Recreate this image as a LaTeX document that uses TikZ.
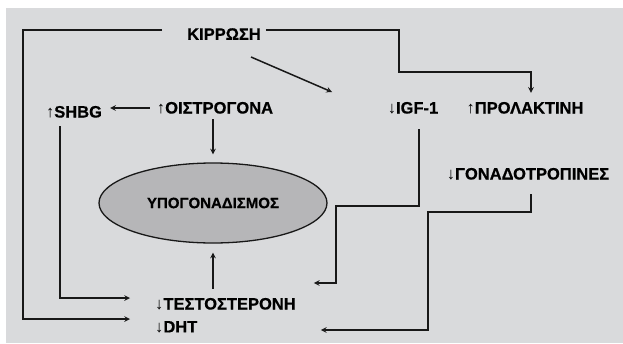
\documentclass[tikz,border=0pt]{standalone}
\usepackage{fontspec}
\setmainfont{Liberation Sans}[BoldFeatures={FakeBold=0.6}]
\usetikzlibrary{positioning, calc, shapes.geometric}
\definecolor{bggray}{RGB}{217,218,220}
\definecolor{ovalgray}{RGB}{182,182,184}
\definecolor{inkgray}{RGB}{24,24,24}
\newcommand{\uparr}{{\mdseries ↑}}
\newcommand{\dnarr}{{\mdseries ↓}}
\tikzstyle{term} = [font=\bfseries\fontsize{16.5}{18}\selectfont, text=black, inner sep=0pt]
\tikzstyle{oval} = [ellipse, draw=inkgray, line width=1.3pt, fill=ovalgray, minimum width=228pt, minimum height=80pt, inner sep=0pt, font=\bfseries\fontsize{15}{17}\selectfont]
\tikzstyle{myarrow} = [->, >=stealth, line width=1.5pt, draw=inkgray]

\begin{document}
\begin{tikzpicture}[x=1pt, y=-1pt]
\useasboundingbox (0,0) rectangle (623,343);
\fill[bggray] (6,8) rectangle (623,343);

\node (kir)  [term] at (224,34) {ΚΙΡΡΩΣΗ};
\node (shbg) [term] at (74,112) {\uparr SHBG};
\node (oest) [term] at (215,108) {\uparr ΟΙΣΤΡΟΓΟΝΑ};
\node (igf)  [term] at (413,108) {\dnarr IGF-1};
\node (prol) [term] at (525,108) {\uparr ΠΡΟΛΑΚΤΙΝΗ};
\node (gon)  [term] at (528,174) {\dnarr ΓΟΝΑΔΟΤΡΟΠΙΝΕΣ};
\node (hypo) [oval] at (213,203) {ΥΠΟΓΟΝΑΔΙΣΜΟΣ};
\node (test) [term, anchor=west] at (155,304) {\dnarr ΤΕΣΤΟΣΤΕΡΟΝΗ};
\node (dht)  [term, anchor=west] at (155,327) {\dnarr DHT};

\coordinate (rbend) at (399,72);
\coordinate (igfbend) at (336,206);
\coordinate (gonbend) at (428,212);

\draw [myarrow] ([shift={(-25,-4)}]kir.west) -| ([shift={(-132,-8)}]dht.west) -- ([shift={(-25,-8)}]dht.west);
\draw [myarrow] ([shift={(5,-4)}]kir.east) -| (rbend) -| ([shift={(6,-9)}]prol.north);
\draw [myarrow] ([shift={(27,23)}]kir.center) -- ([shift={(-81,-16)}]igf.center);
\draw [myarrow, shorten <=7pt, shorten >=8pt] (oest.west) -- (oest.west -| shbg.east);
\draw [myarrow, shorten <=5pt, shorten >=8pt] (oest.south -| hypo.north) -- (hypo.north);
\draw [myarrow] ([shift={(-14,8)}]shbg.south) |- ([shift={(-25,-6)}]test.west);
\draw [myarrow, shorten <=9pt, shorten >=9pt] (test.north -| hypo.south) -- (hypo.south);
\draw [myarrow] ([shift={(6,15)}]igf.south) |- (igfbend) |- ([shift={(18,-21)}]test.east);
\draw [myarrow] ([shift={(3,14)}]gon.south) |- (gonbend) |- ([shift={(25,26)}]test.east);
\end{tikzpicture}
\end{document}
